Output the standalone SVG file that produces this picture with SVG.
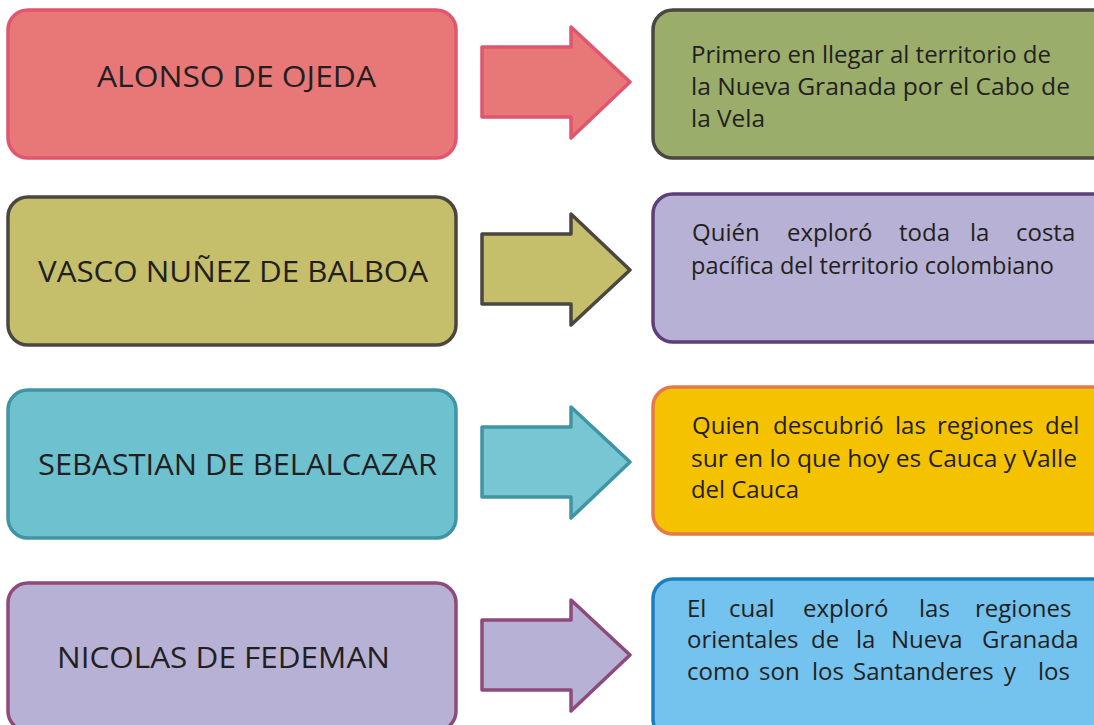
<svg xmlns="http://www.w3.org/2000/svg" width="1094" height="725" viewBox="0 0 1094 725">
<style>
.box{stroke-width:3.5}
.arr{stroke-width:3.5;stroke-linejoin:round}
.lt{font-family:"Open Sans","Noto Sans","DejaVu Sans",sans-serif;font-size:29px;fill:#231F20}
.rt{font-family:"Open Sans","Noto Sans","DejaVu Sans",sans-serif;font-size:24px;fill:#231F20}
</style>
<rect width="1094" height="725" fill="#ffffff"/>
<g id="connectors">
<path class="arr" d="M482 47 H571 V27 L630 82 L571 138 V117 H482 Z" fill="#E87777" stroke="#E0566E"/>
<path class="arr" d="M482 234 H571 V214 L630 270 L571 325 V304 H482 Z" fill="#C5BE6A" stroke="#4A4640"/>
<path class="arr" d="M482 427 H571 V407 L630 462 L571 518 V497 H482 Z" fill="#78C5D3" stroke="#3F95A2"/>
<path class="arr" d="M482 620 H571 V600 L630 655 L571 711 V690 H482 Z" fill="#B7B1D5" stroke="#8E4A7A"/>
</g>
<g id="n1">
<rect class="box" x="8" y="10" width="448" height="148" rx="20" fill="#E87777" stroke="#E0566E"/>
<text class="lt" x="97" y="87" textLength="279" lengthAdjust="spacingAndGlyphs">ALONSO DE OJEDA</text>
</g>
<g id="n2">
<rect class="box" x="8" y="197" width="448" height="148" rx="20" fill="#C5BE6A" stroke="#4A4640"/>
<text class="lt" x="38" y="282" textLength="390" lengthAdjust="spacingAndGlyphs">VASCO NUÑEZ DE BALBOA</text>
</g>
<g id="n3">
<rect class="box" x="8" y="390" width="448" height="148" rx="20" fill="#6EC1CF" stroke="#3F95A2"/>
<text class="lt" x="38" y="475" textLength="399" lengthAdjust="spacingAndGlyphs">SEBASTIAN DE BELALCAZAR</text>
</g>
<g id="n4">
<rect class="box" x="8" y="583" width="448" height="148" rx="20" fill="#B7B1D5" stroke="#8E4A7A"/>
<text class="lt" x="57" y="668" textLength="333" lengthAdjust="spacingAndGlyphs">NICOLAS DE FEDEMAN</text>
</g>
<g id="r1">
<rect class="box" x="653" y="10" width="460" height="148" rx="20" fill="#9AAD6A" stroke="#4A4640"/>
<text class="rt" x="691" y="63" textLength="360" lengthAdjust="spacingAndGlyphs">Primero en llegar al territorio de</text>
<text class="rt" x="691" y="95" textLength="379" lengthAdjust="spacingAndGlyphs">la Nueva Granada por el Cabo de</text>
<text class="rt" x="691" y="127" textLength="74" lengthAdjust="spacingAndGlyphs">la Vela</text>
</g>
<g id="r2">
<rect class="box" x="653" y="194" width="460" height="148" rx="20" fill="#B7B1D5" stroke="#5E3F7A"/>
<text class="rt" y="241"><tspan x="692">Quién</tspan> <tspan x="787">exploró</tspan> <tspan x="899">toda</tspan> <tspan x="970">la</tspan> <tspan x="1016">costa</tspan></text>
<text class="rt" x="691" y="274" textLength="363" lengthAdjust="spacingAndGlyphs">pacífica del territorio colombiano</text>
</g>
<g id="r3">
<rect class="box" x="653" y="387" width="460" height="147" rx="20" fill="#F5C200" stroke="#E8784A"/>
<text class="rt" y="434"><tspan x="692">Quien</tspan> <tspan x="773">descubrió</tspan> <tspan x="895">las</tspan> <tspan x="937">regiones</tspan> <tspan x="1045">del</tspan></text>
<text class="rt" x="691" y="467" textLength="386" lengthAdjust="spacingAndGlyphs">sur en lo que hoy es Cauca y Valle</text>
<text class="rt" x="691" y="498" textLength="108" lengthAdjust="spacingAndGlyphs">del Cauca</text>
</g>
<g id="r4">
<rect class="box" x="653" y="579" width="460" height="160" rx="20" fill="#74C2EE" stroke="#1A7FC1"/>
<text class="rt" y="617"><tspan x="687">El</tspan> <tspan x="729">cual</tspan> <tspan x="803">exploró</tspan> <tspan x="919">las</tspan> <tspan x="975">regiones</tspan></text>
<text class="rt" y="648"><tspan x="687">orientales</tspan> <tspan x="811">de</tspan> <tspan x="856">la</tspan> <tspan x="891">Nueva</tspan> <tspan x="982">Granada</tspan></text>
<text class="rt" y="680"><tspan x="687">como</tspan> <tspan x="759">son</tspan> <tspan x="812">los</tspan> <tspan x="853">Santanderes</tspan> <tspan x="1004">y</tspan> <tspan x="1038">los</tspan></text>
</g>
</svg>
